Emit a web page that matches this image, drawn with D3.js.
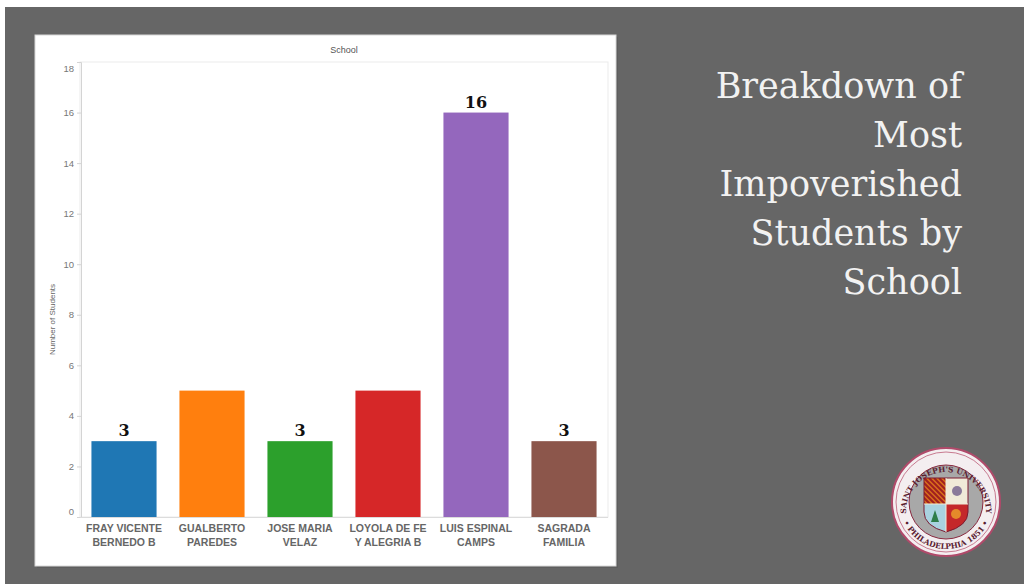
<!DOCTYPE html>
<html>
<head>
<meta charset="utf-8">
<script src="https://cdn.jsdelivr.net/npm/d3@7"></script>
<style>
  html, body { margin: 0; padding: 0; background: #ffffff; }
  svg { display: block; }
</style>
</head>
<body>
<svg id="chart" width="1024" height="584"></svg>
<script>
// ---- data ----
const schoolsLine1 = ["FRAY VICENTE", "GUALBERTO", "JOSE MARIA", "LOYOLA DE FE", "LUIS ESPINAL", "SAGRADA"];
const schoolsLine2 = ["BERNEDO B", "PAREDES", "VELAZ", "Y ALEGRIA B", "CAMPS", "FAMILIA"];
const students = [3, 5, 3, 5, 16, 3];
const showValue = [true, false, true, false, true, true];
const barColors = ["#1f77b4", "#ff7f0e", "#2ca02c", "#d62728", "#9467bd", "#8c564b"];
const yTicks = [0, 2, 4, 6, 8, 10, 12, 14, 16, 18];
const titleLines = ["Breakdown of", "Most", "Impoverished", "Students by", "School"];
const axisTitle = "Number of Students";
const headerTitle = "School";

const svg = d3.select("#chart");

// slide background
svg.append("rect").attr("x", 5).attr("y", 7).attr("width", 1019).attr("height", 577).attr("fill", "#666666");

// chart panel
svg.append("rect").attr("x", 37).attr("y", 37).attr("width", 581).attr("height", 531).attr("fill", "#555").attr("opacity", 0.5);
svg.append("rect").attr("x", 35).attr("y", 35).attr("width", 581).attr("height", 531)
  .attr("fill", "#ffffff").attr("stroke", "#d8d8d8").attr("stroke-width", 1);

const plot = { left: 80, right: 608, top: 62, bottom: 517 };

const x = d3.scaleBand()
  .domain(d3.range(students.length))
  .range([plot.left, plot.right])
  .paddingInner(0.26)
  .paddingOuter(0.13);

const y = d3.scaleLinear().domain([0, 18]).range([plot.bottom, plot.top]);

// plot frame
svg.append("rect").attr("x", plot.left).attr("y", plot.top)
  .attr("width", plot.right - plot.left).attr("height", plot.bottom - plot.top)
  .attr("fill", "none").attr("stroke", "#ebebeb");

// header
svg.append("text").attr("x", (plot.left + plot.right) / 2).attr("y", 53)
  .attr("text-anchor", "middle").attr("font-family", "Liberation Sans, Arial, sans-serif")
  .attr("font-size", 9).attr("fill", "#555").text(headerTitle);

// y axis
const yAxis = d3.axisLeft(y).tickValues(yTicks).tickSize(4).tickPadding(3);
const gy = svg.append("g").attr("transform", `translate(${plot.left + 1},0)`).call(yAxis);
gy.select(".domain").attr("stroke", "#d4d4d4");
gy.selectAll(".tick line").attr("stroke", "#d4d4d4");
gy.selectAll(".tick text")
  .attr("font-family", "Liberation Sans, Arial, sans-serif")
  .attr("font-size", 9.5).attr("fill", "#777")
  .attr("y", d => {
    const p = y(d);
    const c = Math.min(Math.max(p, plot.top + 6), plot.bottom - 6);
    return c - p;
  });

// axis title
svg.append("text")
  .attr("transform", `translate(53,${(plot.top + plot.bottom) / 2 + 30}) rotate(-90)`)
  .attr("text-anchor", "middle").attr("dominant-baseline", "middle")
  .attr("font-family", "Liberation Sans, Arial, sans-serif")
  .attr("font-size", 8).attr("fill", "#666").text(axisTitle);

// baseline
svg.append("line").attr("x1", plot.left).attr("x2", plot.right)
  .attr("y1", y(0) + 0.5).attr("y2", y(0) + 0.5).attr("stroke", "#dcdcdc");

// bars
svg.append("g").selectAll("rect").data(students).join("rect")
  .attr("x", (d, i) => x(i)).attr("y", d => y(d))
  .attr("width", x.bandwidth()).attr("height", d => y(0) - y(d))
  .attr("fill", (d, i) => barColors[i]);

// value labels
const labelled = d3.range(students.length).filter(i => showValue[i]);
svg.append("g").selectAll("text").data(labelled).join("text")
  .attr("x", i => x(i) + x.bandwidth() / 2)
  .attr("y", i => y(students[i]) - 5)
  .attr("text-anchor", "middle")
  .attr("font-family", "DejaVu Serif, Georgia, serif")
  .attr("font-weight", "bold").attr("font-size", 16).attr("fill", "#111")
  .text(i => students[i]);

// category labels
const cat = svg.append("g").selectAll("text").data(students).join("text")
  .attr("x", (d, i) => x(i) + x.bandwidth() / 2)
  .attr("text-anchor", "middle")
  .attr("font-family", "Liberation Sans, Arial, sans-serif")
  .attr("font-weight", "bold").attr("font-size", 10.5).attr("fill", "#666");
cat.append("tspan").attr("x", (d, i) => x(i) + x.bandwidth() / 2).attr("y", 532).text((d, i) => schoolsLine1[i]);
cat.append("tspan").attr("x", (d, i) => x(i) + x.bandwidth() / 2).attr("y", 546).text((d, i) => schoolsLine2[i]);

// slide title
svg.append("g").selectAll("text").data(titleLines).join("text")
  .attr("x", 962).attr("y", (d, i) => 98 + i * 49)
  .attr("text-anchor", "end")
  .attr("font-family", "DejaVu Serif, Georgia, serif")
  .attr("font-size", 35).attr("fill", "#f2f2f2")
  .text(d => d);

// seal logo
const cx = 946, cy = 502, R = 54;
const logo = svg.append("g").attr("transform", `translate(${cx},${cy})`);
logo.append("circle").attr("r", R).attr("fill", "#f4eef0").attr("stroke", "#b04a6a").attr("stroke-width", 2);
logo.append("circle").attr("r", R - 4).attr("fill", "none").attr("stroke", "#c87a90").attr("stroke-width", 1);
logo.append("circle").attr("r", R - 17).attr("fill", "#a8a8a8").attr("stroke", "#8a2a40").attr("stroke-width", 1);
const defs = svg.append("defs");
defs.append("path").attr("id", "arcTop")
  .attr("d", `M ${cx - (R - 14)},${cy + 10} A ${R - 14},${R - 14} 0 1 1 ${cx + (R - 14)},${cy + 10}`);
defs.append("path").attr("id", "arcBot")
  .attr("d", `M ${cx - (R - 7)},${cy} A ${R - 7},${R - 7} 0 0 0 ${cx + (R - 7)},${cy}`);
svg.append("text").attr("font-family", "DejaVu Serif, serif").attr("font-size", 7.5).attr("font-weight", "bold").attr("fill", "#5a2030")
  .append("textPath").attr("href", "#arcTop").attr("startOffset", "50%").attr("text-anchor", "middle")
  .text("SAINT JOSEPH'S UNIVERSITY");
svg.append("text").attr("font-family", "DejaVu Serif, serif").attr("font-size", 7.5).attr("font-weight", "bold").attr("fill", "#5a2030")
  .append("textPath").attr("href", "#arcBot").attr("startOffset", "50%").attr("text-anchor", "middle")
  .text("• PHILADELPHIA 1851 •");
// shield
const sw = 22, shTop = -24, shMid = 2, shBot = 30;
const shieldPath = `M ${-sw},${shTop} L ${sw},${shTop} L ${sw},${shMid + 8} Q ${sw},${shBot - 6} 0,${shBot} Q ${-sw},${shBot - 6} ${-sw},${shMid + 8} Z`;
defs.append("clipPath").attr("id", "shieldClip").append("path").attr("d", shieldPath).attr("transform", `translate(${cx},${cy})`);
const q = svg.append("g").attr("clip-path", "url(#shieldClip)");
q.append("rect").attr("x", cx - sw).attr("y", cy + shTop).attr("width", sw).attr("height", shMid - shTop).attr("fill", "#d9701c");
for (let k = -6; k < 8; k++) {
  q.append("line").attr("x1", cx - sw + k * 5).attr("y1", cy + shTop).attr("x2", cx - sw + k * 5 + 26).attr("y2", cy + shMid)
    .attr("stroke", "#a02020").attr("stroke-width", 2);
}
q.append("rect").attr("x", cx).attr("y", cy + shTop).attr("width", sw).attr("height", shMid - shTop).attr("fill", "#f0ead8");
q.append("circle").attr("cx", cx + 11).attr("cy", cy - 11).attr("r", 5).attr("fill", "#8a7a9a");
q.append("rect").attr("x", cx - sw).attr("y", cy + shMid).attr("width", sw).attr("height", shBot - shMid).attr("fill", "#a9d2e0");
q.append("path").attr("d", `M ${cx - 11},${cy + 8} l -4,12 l 8,0 Z`).attr("fill", "#2e7d4a");
q.append("rect").attr("x", cx).attr("y", cy + shMid).attr("width", sw).attr("height", shBot - shMid).attr("fill", "#c4282a");
q.append("circle").attr("cx", cx + 10).attr("cy", cy + 12).attr("r", 5).attr("fill", "#e58a2a");
svg.append("path").attr("d", shieldPath).attr("transform", `translate(${cx},${cy})`).attr("fill", "none").attr("stroke", "#7a1a30").attr("stroke-width", 1);
svg.append("line").attr("x1", cx).attr("x2", cx).attr("y1", cy + shTop).attr("y2", cy + shBot).attr("stroke", "#f0ead8").attr("stroke-width", 1);
svg.append("line").attr("x1", cx - sw).attr("x2", cx + sw).attr("y1", cy + shMid).attr("y2", cy + shMid).attr("stroke", "#f0ead8").attr("stroke-width", 1);
</script>
</body>
</html>
